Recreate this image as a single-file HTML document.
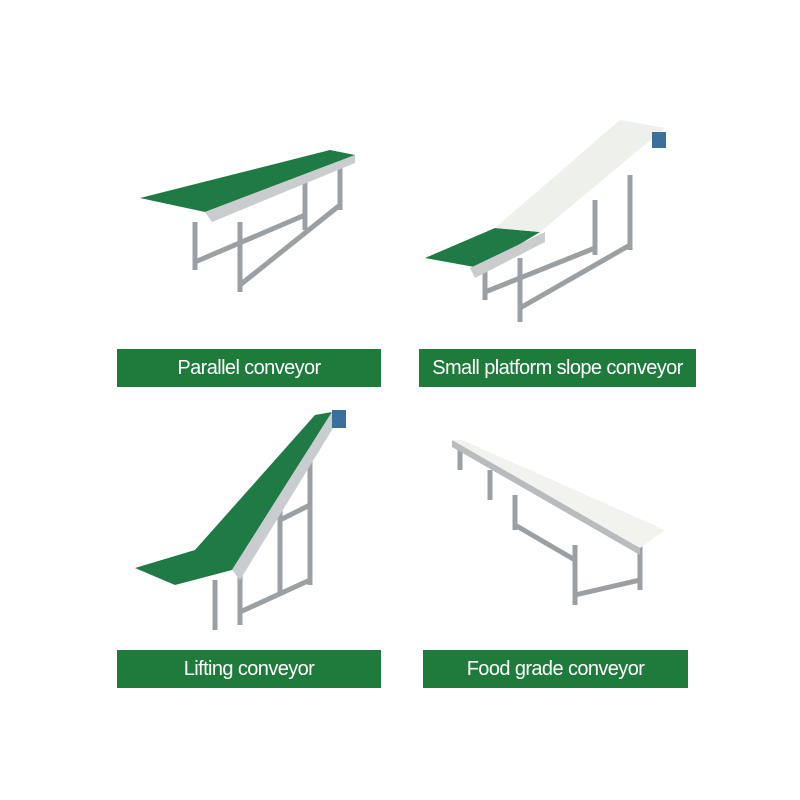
<!DOCTYPE html>
<html><head><meta charset="utf-8"><style>
body{margin:0;width:800px;height:800px;background:#fff;position:relative;overflow:hidden;font-family:"Liberation Sans Narrow","Liberation Sans",sans-serif}
.lab{position:absolute;background:#1e7b3c;color:#fff;font-size:20px;display:flex;align-items:center;justify-content:center;height:38px;letter-spacing:-0.6px;white-space:nowrap}
svg{position:absolute;left:0;top:0}
</style></head><body>
<svg width="800" height="800" viewBox="0 0 800 800">
<g stroke="#9aa0a4" stroke-width="5" fill="none">
<path d="M195 222 L195 270 M240 222 L240 292 M305 180 L305 230 M340 160 L340 210 M195 262 L305 215 M240 285 L340 205 M215 218 L335 165"/>
<path d="M485 262 L485 300 M520 258 L520 322 M595 200 L595 255 M630 175 L630 250 M485 292 L595 248 M520 308 L630 245"/>
<path d="M215 580 L215 630 M240 575 L240 625 M280 500 L280 595 M310 440 L310 585 M240 612 L310 580 M280 520 L310 505"/>
<path d="M460 450 L460 470 M490 470 L490 500 M515 495 L515 530 M575 545 L575 605 M640 530 L640 590 M575 595 L640 580 M515 525 L575 560"/>
</g>
<polygon points="140,198 330,150 355,155 205,212" fill="#1f7a45"/>
<polygon points="205,212 355,155 355,163 212,222" fill="#c9cdd0"/>
<polygon points="425,258 495,228 540,232 480,268" fill="#1f7a45"/>
<polygon points="495,228 620,120 665,128 540,232" fill="#eef0ec"/>
<polygon points="470,268 545,232 545,242 475,278" fill="#c9cdd0"/>
<polygon points="135,568 195,550 315,415 332,412 232,570 175,585" fill="#1f7a45"/>
<polygon points="232,570 332,412 338,420 240,580" fill="#c9cdd0"/>
<rect x="332" y="410" width="14" height="18" fill="#3a6f9e"/>
<rect x="652" y="132" width="14" height="16" fill="#3a6f9e"/>
<polygon points="452,440 462,440 665,530 640,548" fill="#f2f2ee"/>
<polygon points="452,440 640,548 640,555 452,447" fill="#b8bcbf"/>
</svg>
<div class="lab" style="left:117px;top:349px;width:264px">Parallel conveyor</div>
<div class="lab" style="left:419px;top:349px;width:277px">Small platform slope conveyor</div>
<div class="lab" style="left:117px;top:650px;width:264px">Lifting conveyor</div>
<div class="lab" style="left:423px;top:650px;width:265px">Food grade conveyor</div>
</body></html>
